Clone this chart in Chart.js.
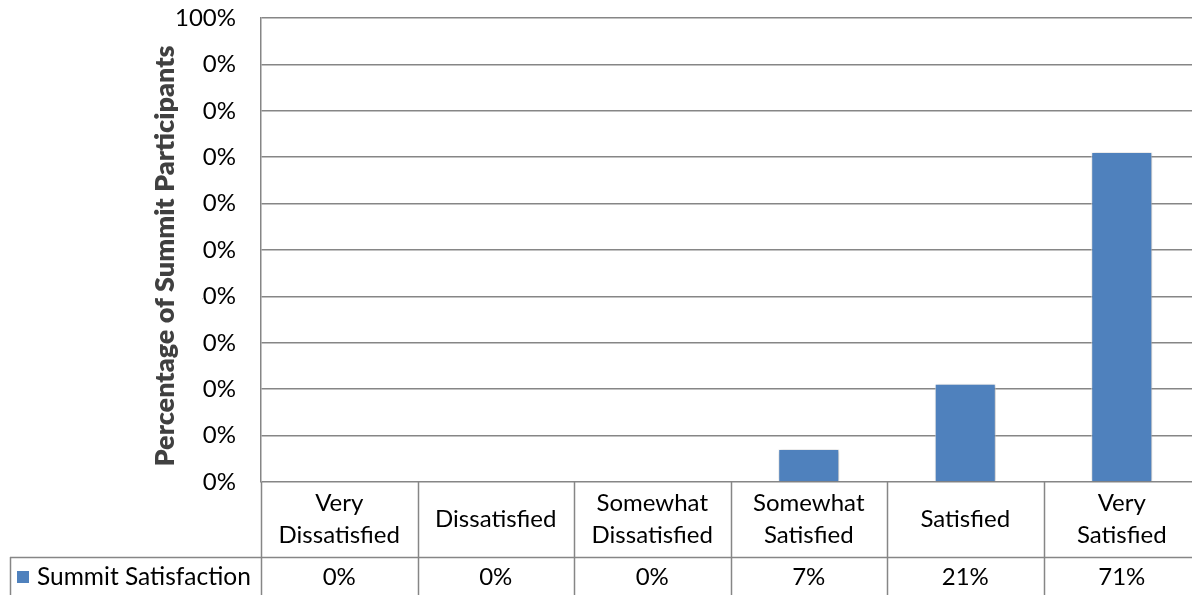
<!DOCTYPE html>
<html>
<head>
<meta charset="utf-8">
<script src="https://cdn.jsdelivr.net/npm/chart.js@4.4.0/dist/chart.umd.min.js"></script>
<style>
  html, body { margin: 0; padding: 0; background: #fff; overflow: hidden; }
  #wrap { width: 1201px; height: 595px; position: relative; }
</style>
</head>
<body>
<div id="wrap"><canvas id="chart"></canvas></div>
<script>
// datos
const categorias = [['Very', 'Dissatisfied'], ['Dissatisfied'], ['Somewhat', 'Dissatisfied'], ['Somewhat', 'Satisfied'], ['Satisfied'], ['Very', 'Satisfied']];
const valores = [0, 0, 0, 7.1, 21.2, 71.1];
const etiquetasTabla = ['0%', '0%', '0%', '7%', '21%', '71%'];
const nombreSerie = 'Summit Satisfaction';
const tituloEjeY = 'Percentage of Summit Participants';

const AZUL = '#4F81BD';
const GRIS = '#868686';
const FUENTE = "Lato, 'Open Sans', sans-serif";

// tabla de datos debajo del grafico + titulo del eje que tapa los ticks
const tablaPlugin = {
  id: 'tabla',
  afterDraw(chart) {
    const ctx = chart.ctx;
    const area = chart.chartArea;
    const x = chart.scales.x;
    const n = categorias.length;
    const ancho = (area.right - area.left) / n;
    const filaY = area.bottom + 75;
    const fondo = chart.height + 5;

    ctx.save();
    ctx.strokeStyle = GRIS;
    ctx.lineWidth = 1.5;

    // lineas verticales
    for (let i = 0; i <= n; i++) {
      const px = Math.round(area.left + i * ancho) + 0.5;
      ctx.beginPath();
      ctx.moveTo(px, area.bottom);
      ctx.lineTo(px, fondo);
      ctx.stroke();
    }
    // borde izquierdo de la leyenda
    ctx.beginPath();
    ctx.moveTo(10.5, filaY);
    ctx.lineTo(10.5, fondo);
    ctx.stroke();
    // linea horizontal entre filas
    ctx.beginPath();
    ctx.moveTo(10, filaY + 0.5);
    ctx.lineTo(area.right, filaY + 0.5);
    ctx.stroke();

    ctx.fillStyle = '#000';
    ctx.font = '24px ' + FUENTE;
    ctx.textAlign = 'center';
    ctx.textBaseline = 'middle';
    const medio = (area.bottom + filaY) / 2;
    categorias.forEach((lineas, i) => {
      const cx = x.getPixelForValue(i);
      const alto = 32;
      const y0 = medio - (lineas.length - 1) * alto / 2;
      lineas.forEach((t, j) => ctx.fillText(t, cx, y0 + j * alto));
      ctx.fillText(etiquetasTabla[i], cx, filaY + 20);
    });

    // leyenda
    ctx.fillStyle = AZUL;
    ctx.fillRect(17, filaY + 14, 12, 12);
    ctx.fillStyle = '#000';
    ctx.textAlign = 'left';
    ctx.font = '24.5px ' + FUENTE;
    ctx.fillText(nombreSerie, 37, filaY + 20);

    // titulo del eje Y con fondo blanco
    ctx.fillStyle = '#fff';
    ctx.fillRect(140, 38, 62, 430);
    ctx.translate(174, 256);
    ctx.rotate(-Math.PI / 2);
    ctx.fillStyle = '#404040';
    ctx.font = '800 27px ' + FUENTE;
    ctx.textAlign = 'center';
    ctx.textBaseline = 'alphabetic';
    ctx.fillText(tituloEjeY, 0, 0);
    ctx.restore();
  }
};

// sombra ligera en las barras
const sombraPlugin = {
  id: 'sombra',
  beforeDatasetsDraw(chart) {
    const ctx = chart.ctx;
    ctx.save();
    ctx.shadowColor = 'rgba(0,0,0,0.3)';
    ctx.shadowBlur = 4;
    ctx.shadowOffsetX = 1;
    ctx.shadowOffsetY = 1;
  },
  afterDatasetsDraw(chart) {
    chart.ctx.restore();
  }
};

new Chart(document.getElementById('chart'), {
  type: 'bar',
  data: {
    labels: categorias.map(c => c.join(' ')),
    datasets: [{
      label: nombreSerie,
      data: valores,
      backgroundColor: AZUL,
      borderColor: 'rgba(255,255,255,0.7)',
      borderWidth: 1,
      categoryPercentage: 1,
      barPercentage: 0.39
    }]
  },
  options: {
    responsive: true,
    maintainAspectRatio: false,
    animation: false,
    layout: { padding: { top: 18, right: 1, bottom: 113, left: 0 } },
    plugins: {
      legend: { display: false },
      tooltip: { enabled: false }
    },
    scales: {
      x: { display: false },
      y: {
        min: 0,
        max: 100,
        afterFit(scale) { scale.width = 261; },
        ticks: {
          stepSize: 10,
          padding: 0,
          color: '#000',
          font: { family: FUENTE, size: 24 },
          callback: v => v + '%'
        },
        grid: { color: GRIS, lineWidth: 1.5, drawTicks: true, tickLength: 25, tickColor: 'rgba(0,0,0,0)' },
        border: { color: GRIS, width: 1.5 }
      }
    }
  },
  plugins: [sombraPlugin, tablaPlugin]
});
</script>
</body>
</html>
